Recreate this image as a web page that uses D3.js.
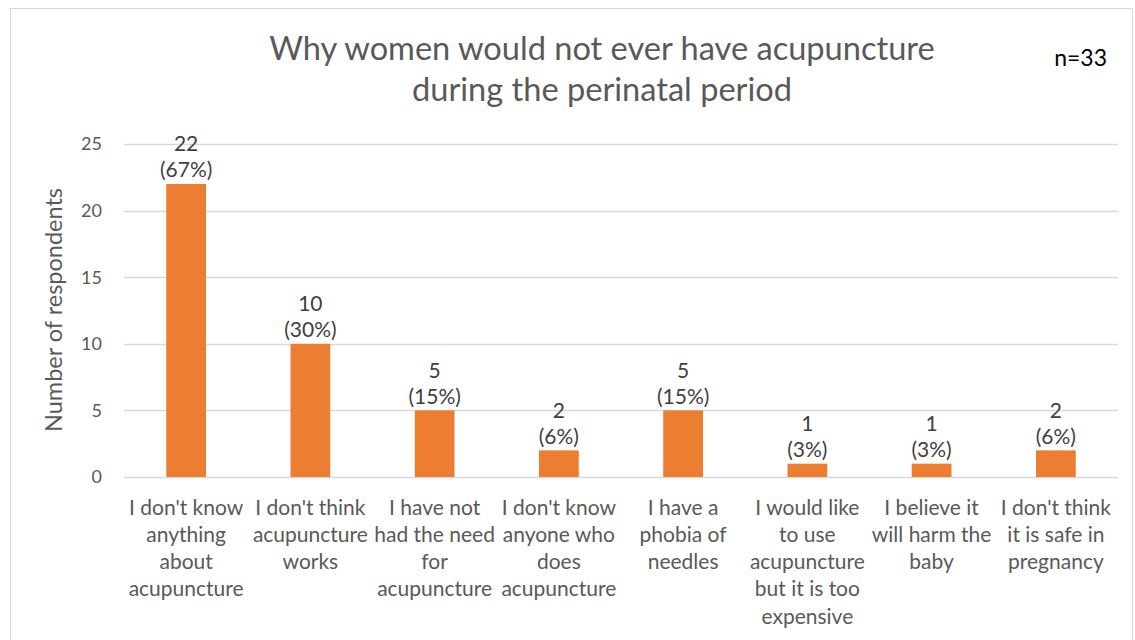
<!DOCTYPE html>
<html><head><meta charset="utf-8">
<script src="https://cdn.jsdelivr.net/npm/d3@7"></script>
<style>body{margin:0;background:#fff}svg{display:block}text{font-family:Lato,"Open Sans",sans-serif}</style>
</head><body><svg id="c" width="1135" height="640"></svg>
<script>
const categories = [
  ["I don't know","anything","about","acupuncture"],
  ["I don't think","acupuncture","works"],
  ["I have not","had the need","for","acupuncture"],
  ["I don't know","anyone who","does","acupuncture"],
  ["I have a","phobia of","needles"],
  ["I would like","to use","acupuncture","but it is too","expensive"],
  ["I believe it","will harm the","baby"],
  ["I don't think","it is safe in","pregnancy"]
];
const values = [22,10,5,2,5,1,1,2];
const percents = ["67%","30%","15%","6%","15%","3%","3%","6%"];
const yTicks = [0,5,10,15,20,25];
const titleLines = ["Why women would not ever have acupuncture","during the perinatal period"];
const note = "n=33";
const yTitle = "Number of respondents";

(function(){
const svg = d3.select("#c");
svg.append("rect").attr("x",10.5).attr("y",8.5).attr("width",1122).attr("height",640).attr("fill","#fff").attr("stroke","#d9d9d9");

const pL=124,pR=1118,pT=144,pB=477;
const x = d3.scaleBand().domain(d3.range(values.length)).range([pL,pR]).paddingInner(0.68).paddingOuter(0.34);
const y = d3.scaleLinear().domain([0,25]).range([pB,pT]);

const g = svg.append("g");
g.selectAll("line.grid").data(yTicks).join("line")
  .attr("x1",pL).attr("x2",pR).attr("y1",d=>Math.round(y(d))+0.5).attr("y2",d=>Math.round(y(d))+0.5)
  .attr("stroke","#d9d9d9").attr("stroke-width",1.3);

g.selectAll("text.tick").data(yTicks).join("text")
  .attr("x",102).attr("y",d=>y(d)).attr("dy","0.35em").attr("text-anchor","end")
  .attr("font-size",18).attr("fill","#595959").text(d=>d);

g.selectAll("rect.bar").data(values).join("rect")
  .attr("x",(d,i)=>x(i)).attr("width",x.bandwidth()).attr("y",d=>y(d)).attr("height",d=>y(0)-y(d))
  .attr("fill","#ED7D31");

const vl = g.selectAll("text.val").data(values).join("text")
  .attr("text-anchor","middle").attr("font-size",21).attr("fill","#404040");
vl.append("tspan").attr("x",(d,i)=>x(i)+x.bandwidth()/2).attr("y",d=>y(d)-32.5).text(d=>d);
vl.append("tspan").attr("x",(d,i)=>x(i)+x.bandwidth()/2).attr("y",d=>y(d)-6.5).text((d,i)=>"("+percents[i]+")");

categories.forEach((lines,i)=>{
  const t = g.append("text").attr("text-anchor","middle").attr("font-size",21).attr("fill","#595959");
  lines.forEach((l,j)=>t.append("tspan").attr("x",x(i)+x.bandwidth()/2).attr("y",514.5+j*27.3).text(l));
});

const tt = svg.append("text").attr("text-anchor","middle").attr("font-size",32.6).attr("fill","#595959");
titleLines.forEach((l,j)=>tt.append("tspan").attr("x",602).attr("y",60+j*40.5).text(l));

svg.append("text").attr("x",1107).attr("y",66).attr("text-anchor","end").attr("font-size",23).attr("fill","#000").text(note);

svg.append("text").attr("transform","translate(62,310) rotate(-90)").attr("text-anchor","middle")
  .attr("font-size",23.5).attr("fill","#595959").text(yTitle);
})();
</script></body></html>
